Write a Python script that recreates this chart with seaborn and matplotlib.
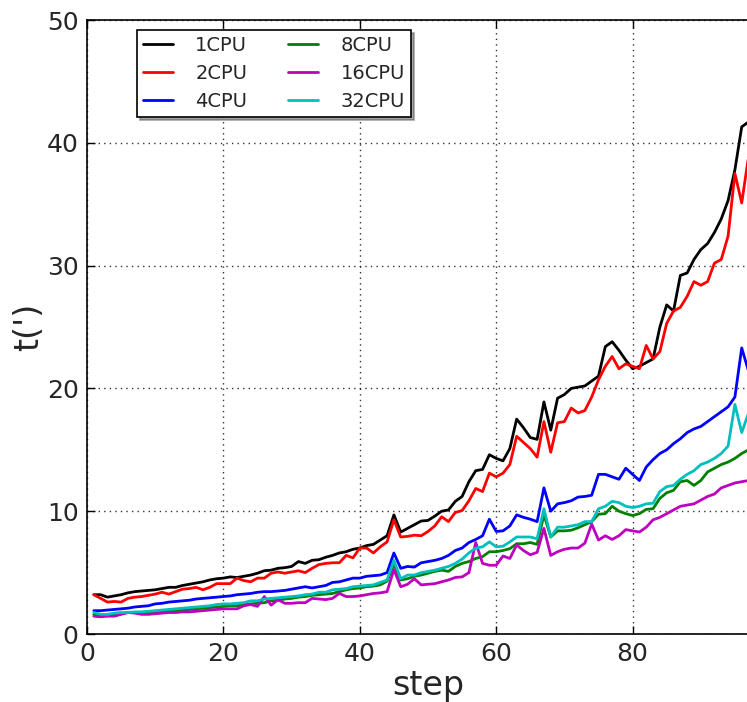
import numpy as np
import pandas as pd
import matplotlib
matplotlib.use("Agg")
import matplotlib.pyplot as plt
import seaborn as sns
from matplotlib.lines import Line2D

steps = list(range(1, 98))

cpu1 = [3.2, 3.2, 3.0, 3.1, 3.2, 3.35, 3.45, 3.5, 3.55, 3.6,
        3.7, 3.8, 3.8, 3.95, 4.05, 4.15, 4.25, 4.4, 4.5, 4.55,
        4.65, 4.6, 4.7, 4.8, 4.95, 5.15, 5.2, 5.35, 5.4, 5.5,
        5.9, 5.75, 6.0, 6.05, 6.25, 6.4, 6.6, 6.7, 6.9, 7.0,
        7.2, 7.3, 7.65, 8.0, 9.7, 8.3, 8.6, 8.9, 9.2, 9.25,
        9.6, 10.0, 10.1, 10.8, 11.2, 12.4, 13.3, 13.4, 14.6, 14.3,
        14.1, 15.1, 17.5, 16.8, 16.0, 15.85, 18.9, 16.6, 19.2, 19.5,
        20.0, 20.1, 20.2, 20.6, 21.0, 23.4, 23.8, 23.1, 22.3, 21.6,
        21.8, 22.1, 22.4, 25.0, 26.8, 26.3, 29.2, 29.4, 30.5, 31.3,
        31.8, 32.7, 33.8, 35.3, 37.8, 41.3, 41.7]

cpu2 = [3.2, 2.9, 2.6, 2.65, 2.6, 2.9, 3.0, 3.05, 3.15, 3.25,
        3.4, 3.25, 3.45, 3.65, 3.7, 3.8, 3.6, 3.8, 4.1, 4.1,
        4.1, 4.55, 4.35, 4.25, 4.55, 4.55, 4.95, 5.05, 4.95, 5.05,
        5.15, 5.0, 5.35, 5.65, 5.75, 5.8, 5.8, 6.4, 6.2, 7.0,
        7.0, 6.6, 7.1, 7.5, 9.3, 7.9, 7.95, 8.05, 8.0, 8.35,
        8.8, 9.55, 9.15, 9.9, 10.05, 10.85, 11.85, 11.6, 13.1, 12.8,
        13.1, 13.8, 16.1, 15.6, 15.1, 14.4, 17.3, 14.8, 17.2, 17.3,
        18.4, 18.0, 18.2, 19.3, 20.7, 21.8, 22.6, 21.6, 22.0, 21.8,
        21.6, 23.5, 22.4, 23.0, 25.3, 26.3, 26.6, 27.5, 28.7, 28.4,
        28.7, 30.2, 30.5, 32.4, 37.5, 35.1, 38.9]

cpu4 = [1.9, 1.9, 1.95, 2.0, 2.05, 2.1, 2.2, 2.25, 2.3, 2.45,
        2.5, 2.6, 2.65, 2.7, 2.75, 2.85, 2.9, 2.95, 3.0, 3.05,
        3.1, 3.2, 3.25, 3.3, 3.4, 3.45, 3.45, 3.5, 3.55, 3.65,
        3.75, 3.85, 3.75, 3.85, 3.95, 4.2, 4.25, 4.4, 4.55, 4.55,
        4.7, 4.75, 4.8, 5.0, 6.6, 5.35, 5.5, 5.45, 5.8, 5.9,
        6.0, 6.15, 6.4, 6.8, 7.0, 7.45, 7.7, 8.0, 9.35, 8.35,
        8.4, 8.8, 9.7, 9.5, 9.35, 9.15, 11.9, 10.0, 10.6, 10.7,
        10.85, 11.15, 11.2, 11.3, 13.0, 13.0, 12.8, 12.6, 13.5, 13.0,
        12.5, 13.6, 14.2, 14.7, 15.0, 15.5, 15.9, 16.4, 16.7, 16.9,
        17.3, 17.7, 18.1, 18.5, 19.3, 23.3, 21.4]

cpu8 = [1.6, 1.55, 1.55, 1.6, 1.65, 1.75, 1.75, 1.75, 1.8, 1.8,
        1.85, 1.9, 1.9, 1.95, 2.0, 2.05, 2.1, 2.15, 2.2, 2.25,
        2.3, 2.3, 2.4, 2.45, 2.5, 2.55, 2.7, 2.75, 2.85, 2.9,
        3.0, 3.05, 3.15, 3.2, 3.25, 3.3, 3.45, 3.6, 3.7, 3.75,
        3.85, 3.9, 4.0, 4.3, 5.7, 4.4, 4.5, 4.7, 4.8, 4.95,
        5.1, 5.2, 5.1, 5.5, 5.75, 5.9, 6.15, 6.3, 6.7, 6.7,
        6.8, 6.95, 7.35, 7.35, 7.45, 7.3, 9.7, 7.9, 8.4, 8.4,
        8.45, 8.65, 8.9, 9.15, 9.75, 9.8, 10.4, 10.0, 9.8, 9.65,
        9.8, 10.15, 10.2, 11.05, 11.5, 11.7, 12.4, 12.5, 12.1, 12.5,
        13.2, 13.5, 13.8, 14.0, 14.3, 14.7, 15.0]

cpu16 = [1.45, 1.4, 1.45, 1.45, 1.6, 1.75, 1.7, 1.6, 1.6, 1.65,
         1.7, 1.75, 1.75, 1.8, 1.8, 1.85, 1.9, 1.95, 2.0, 2.05,
         2.05, 2.05, 2.3, 2.4, 2.25, 3.05, 2.35, 2.8, 2.5, 2.5,
         2.55, 2.55, 2.9, 2.85, 2.8, 2.9, 3.3, 3.05, 3.05, 3.1,
         3.2, 3.3, 3.35, 3.45, 5.25, 3.85, 4.05, 4.5, 4.0, 4.05,
         4.1, 4.25, 4.4, 4.6, 4.65, 5.0, 7.45, 5.75, 5.6, 5.6,
         6.35, 6.15, 7.25, 6.8, 6.45, 6.65, 8.6, 6.4, 6.7, 6.9,
         7.0, 7.0, 7.4, 8.95, 7.65, 8.0, 7.7, 8.0, 8.5, 8.4,
         8.3, 8.7, 9.3, 9.5, 9.8, 10.1, 10.4, 10.5, 10.6, 10.9,
         11.2, 11.4, 11.9, 12.1, 12.3, 12.4, 12.5]

cpu32 = [1.75, 1.6, 1.6, 1.7, 1.75, 1.75, 1.8, 1.8, 1.85, 1.9,
         1.95, 2.0, 2.05, 2.1, 2.15, 2.2, 2.25, 2.3, 2.4, 2.45,
         2.45, 2.5, 2.55, 2.7, 2.7, 2.85, 2.9, 2.95, 3.0, 3.05,
         3.1, 3.2, 3.25, 3.4, 3.4, 3.6, 3.65, 3.7, 3.85, 3.9,
         3.95, 4.0, 4.2, 4.4, 6.0, 4.5, 4.8, 4.8, 5.0, 5.1,
         5.2, 5.35, 5.5, 5.75, 6.1, 6.6, 7.0, 7.1, 7.5, 7.1,
         7.15, 7.5, 7.9, 7.9, 7.9, 7.75, 10.2, 7.9, 8.7, 8.7,
         8.8, 8.9, 9.15, 9.15, 10.2, 10.4, 10.8, 10.7, 10.4, 10.3,
         10.4, 10.6, 10.65, 11.6, 12.0, 12.1, 12.6, 13.0, 13.3, 13.8,
         14.0, 14.3, 14.7, 15.3, 18.7, 16.4, 18.0]

series_names = ["1CPU", "2CPU", "4CPU", "8CPU", "16CPU", "32CPU"]
series_values = [cpu1, cpu2, cpu4, cpu8, cpu16, cpu32]
series_colors = ["#000000", "#ff0000", "#0000ff", "#008000", "#bf00bf", "#00bfbf"]

x_ticks = [0, 20, 40, 60, 80]
y_ticks = [0, 10, 20, 30, 40, 50]

frames = [pd.DataFrame({"step": steps, "t": vals, "series": name})
          for name, vals in zip(series_names, series_values)]
df = pd.concat(frames, ignore_index=True)

sns.set_style("white")
plt.rcParams["font.family"] = ["DejaVu Sans"]

W, H = 747, 702
fig = plt.figure(figsize=(W / 100, H / 100), dpi=100)
px_per_unit = 6.82
ax = fig.add_axes([87 / W, 68 / H, 100 * px_per_unit / W, 614 / H])

sns.lineplot(data=df, x="step", y="t", hue="series", hue_order=series_names,
             palette=dict(zip(series_names, series_colors)), linewidth=2,
             ax=ax, legend=False)

ax.set_xlim(0, 100)
ax.set_ylim(0, 50)
ax.set_xticks(x_ticks)
ax.set_yticks(y_ticks)
ax.tick_params(axis="both", which="major", direction="in", length=6, width=1,
               labelsize=18, top=True, right=True, bottom=True, left=True,
               color="black", pad=6)
for s in ax.spines.values():
    s.set_color("black")
    s.set_linewidth(1.2)
ax.grid(True, color="black", linestyle=(0, (1, 3)), linewidth=1, alpha=0.8)
ax.set_xlabel("step", fontsize=24, labelpad=2)
ax.set_ylabel("t(')", fontsize=24, labelpad=1)

handles = [Line2D([], [], color=c, lw=2) for c in series_colors]
leg = ax.legend(handles, series_names, ncol=2, loc="upper left",
                bbox_to_anchor=(50 / 682, 1 - 10 / 614), borderaxespad=0,
                fontsize=14, frameon=True, fancybox=False, shadow=True,
                handlelength=1.55, handletextpad=1.15, columnspacing=2.1,
                labelspacing=0.47, borderpad=0.3)
leg.get_frame().set_edgecolor("black")
leg.get_frame().set_linewidth(1.2)

fig.savefig("out.png", dpi=100)
